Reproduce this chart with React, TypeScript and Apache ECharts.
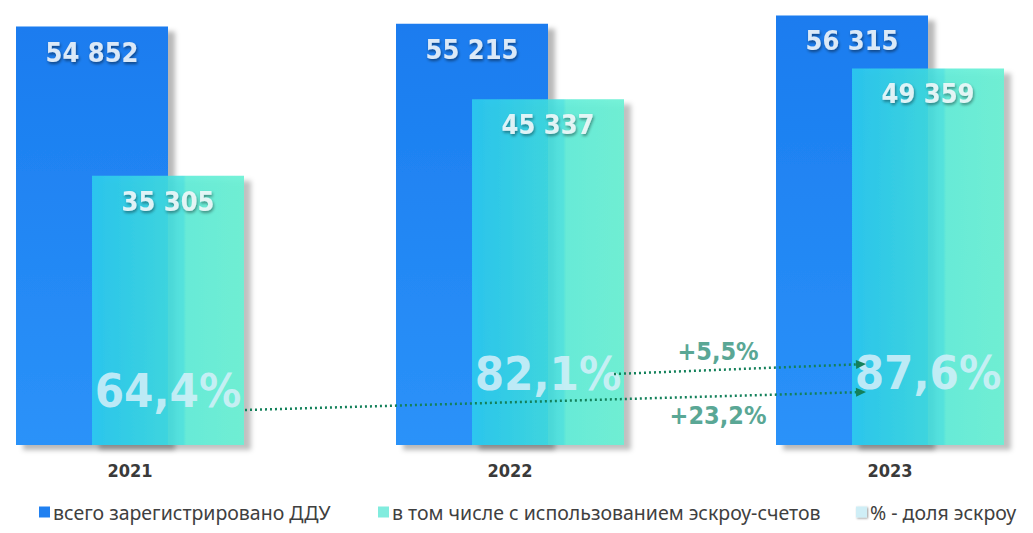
import React, { useEffect, useRef } from "react";
import * as echarts from "echarts";

const CATEGORIES = ["2021", "2022", "2023"];
const TOTAL = [54852, 55215, 56315];
const ESCROW = [35305, 45337, 49359];
const SHARE = [64.4, 82.1, 87.6];

const NAME_TOTAL = "всего зарегистрировано ДДУ";
const NAME_ESCROW = "в том числе с использованием эскроу-счетов";
const NAME_SHARE = "% - доля эскроу";

const PCT_LIFT = [55, 72, 73];
const SHIFT = 60; // chart canvas extends past the page on the left
const COND = '"DejaVu Sans Condensed", "DejaVu Sans", sans-serif';
const LEG_FONT = '"Noto Sans", "Open Sans", sans-serif';

const fmtNum = (n: number) => String(n).replace(/\B(?=(\d{3})+(?!\d))/g, " ");
const fmtPct = (v: number) => v.toFixed(1).replace(".", ",") + "%";

export default function App() {
  const ref = useRef<HTMLDivElement>(null);
  useEffect(() => {
    if (!ref.current) return;
    const chart = echarts.init(ref.current, undefined, { renderer: "svg" });
    const valueLabel = {
      show: true,
      position: "insideTop",
      distance: 12,
      formatter: (p: any) => fmtNum(p.value),
      color: "#dbe9f7",
      fontFamily: COND,
      fontWeight: "bold",
      fontSize: 27,
      textShadowColor: "rgba(0,0,0,0.45)",
      textShadowBlur: 3,
      textShadowOffsetX: 1,
      textShadowOffsetY: 2,
    };
    const legText = { color: "#404040", fontSize: 19.5, fontFamily: LEG_FONT, padding: [0, 0, 0, -2] };
    const option: any = {
      animation: false,
      backgroundColor: "#ffffff",
      grid: { left: 0, right: 0, top: 14, bottom: 88, containLabel: false },
      xAxis: {
        type: "category",
        data: CATEGORIES,
        axisLine: { show: false },
        axisTick: { show: false },
        axisLabel: {
          margin: 16,
          color: "#3a3a3a",
          fontFamily: COND,
          fontWeight: "bold",
          fontSize: 18,
        },
      },
      yAxis: { type: "value", min: 0, max: 56500, show: false, splitLine: { show: false } },
      legend: [
        {
          data: [{ name: NAME_TOTAL, itemStyle: { color: "#2080f0" } }],
          left: 34 + SHIFT, top: 497, itemWidth: 11, itemHeight: 11,
          icon: "rect",
          textStyle: legText,
        },
        {
          data: [{ name: NAME_ESCROW, itemStyle: { color: "#6fe9da" } }],
          left: 373 + SHIFT, top: 497, itemWidth: 11, itemHeight: 11,
          icon: "rect",
          textStyle: legText,
        },
        {
          data: [{ name: NAME_SHARE, itemStyle: { color: "#cfeef6", shadowColor: "rgba(0,0,0,0.4)", shadowBlur: 2, shadowOffsetX: 1, shadowOffsetY: 1 } }],
          left: 851 + SHIFT, top: 497, itemWidth: 11, itemHeight: 11,
          icon: "rect",
          textStyle: legText,
        },
      ],
      series: [
        {
          name: NAME_TOTAL,
          type: "bar",
          data: TOTAL,
          barWidth: "40%",
          barGap: "-50%",
          z: 2,
          itemStyle: {
            color: new echarts.graphic.LinearGradient(0, 0, 0, 1, [
              { offset: 0, color: "#1a7cef" },
              { offset: 1, color: "#2b92f9" },
            ]),
            shadowColor: "rgba(0,0,0,0.28)",
            shadowBlur: 5,
            shadowOffsetX: 7,
            shadowOffsetY: 5,
          },
          label: valueLabel,
        },
        {
          name: NAME_ESCROW,
          type: "bar",
          data: ESCROW,
          barWidth: "40%",
          z: 3,
          itemStyle: {
            color: new echarts.graphic.LinearGradient(0, 0, 1, 0, [
              { offset: 0, color: "#2ccdee" },
              { offset: 0.6, color: "#45e2dc" },
              { offset: 0.62, color: "#5aecd6" },
              { offset: 1, color: "#63f0d2" },
            ]),
            opacity: 0.88,
            shadowColor: "rgba(0,0,0,0.28)",
            shadowBlur: 5,
            shadowOffsetX: 7,
            shadowOffsetY: 5,
          },
          label: { ...valueLabel, color: "#f4f9fc" },
        },
        {
          name: NAME_SHARE,
          type: "custom",
          z: 10,
          data: SHARE.map((v, i) => [i, v]),
          encode: { x: 0, y: 1 },
          renderItem: (params: any, api: any) => {
            const idx = api.value(0);
            const pt = api.coord([idx, 0]);
            const band = api.size([1, 0])[0];
            return {
              type: "text",
              x: pt[0] + band * 0.1,
              y: pt[1] - PCT_LIFT[idx],
              z2: 10,
              style: {
                text: fmtPct(api.value(1)),
                align: "center",
                verticalAlign: "middle",
                fill: "rgba(214,240,250,0.85)",
                fontFamily: COND,
                fontWeight: "bold",
                fontSize: 47,
                shadowColor: "rgba(0,60,80,0.25)",
                shadowBlur: 2,
                shadowOffsetX: 1,
                shadowOffsetY: 2,
              },
            };
          },
        },
      ],
    };
    chart.setOption(option);

    // annotation arrows computed from the axis scale
    const cx = (i: number) => chart.convertToPixel({ gridIndex: 0 } as any, [i, 0]) as number[];
    const base = cx(0)[1];
    const band = cx(1)[0] - cx(0)[0];
    const tealL = (i: number) => cx(i)[0] - band * 0.1;
    const tealR = (i: number) => cx(i)[0] + band * 0.3;
    const yc = (i: number) => base - PCT_LIFT[i];
    const GREEN = "#13805a";
    const arrow = (x1: number, y1: number, x2: number, y2: number) => {
      const ang = Math.atan2(y2 - y1, x2 - x1);
      const L = 10, W = 4.5;
      const bx = x2 - L * Math.cos(ang), by = y2 - L * Math.sin(ang);
      const nx = -Math.sin(ang) * W, ny = Math.cos(ang) * W;
      return [
        { type: "line", shape: { x1, y1, x2: bx, y2: by }, style: { stroke: GREEN, lineWidth: 2.5, lineDash: [2, 3] }, z: 20 },
        { type: "polygon", shape: { points: [[x2, y2], [bx + nx, by + ny], [bx - nx, by - ny]] }, style: { fill: GREEN }, z: 20 },
      ];
    };
    const d1 = SHARE[2] - SHARE[1];
    const d2 = SHARE[2] - SHARE[0];
    const midX = (tealR(1) + tealL(2)) / 2 - 20;
    const a1 = arrow(tealR(1) - 10, yc(1) + 1, tealL(2) + 14, yc(2) - 8);
    const a2 = arrow(tealR(0) + 1, yc(0) + 20, tealL(2) + 14, yc(2) + 20);
    const deltaStyle = {
      fill: "#5aa795",
      fontFamily: COND,
      fontWeight: "bold",
      fontSize: 25,
      align: "center",
      verticalAlign: "middle",
    };
    chart.setOption({
      graphic: [
        ...a1,
        ...a2,
        { type: "text", x: midX, y: yc(1) - 22, z: 20, style: { ...deltaStyle, text: "+" + fmtPct(d1) } },
        { type: "text", x: midX, y: yc(0) + 25, z: 20, style: { ...deltaStyle, text: "+" + fmtPct(d2) } },
      ],
    });

    return () => chart.dispose();
  }, []);
  return (
    <div style={{ position: "absolute", left: 0, top: 0, width: 1033, height: 533, overflow: "hidden", background: "#fff" }}>
      <div
        ref={ref}
        style={{ position: "absolute", left: -SHIFT, top: 0, width: 1033 + SHIFT + 47, height: 533 }}
      />
    </div>
  );
}
